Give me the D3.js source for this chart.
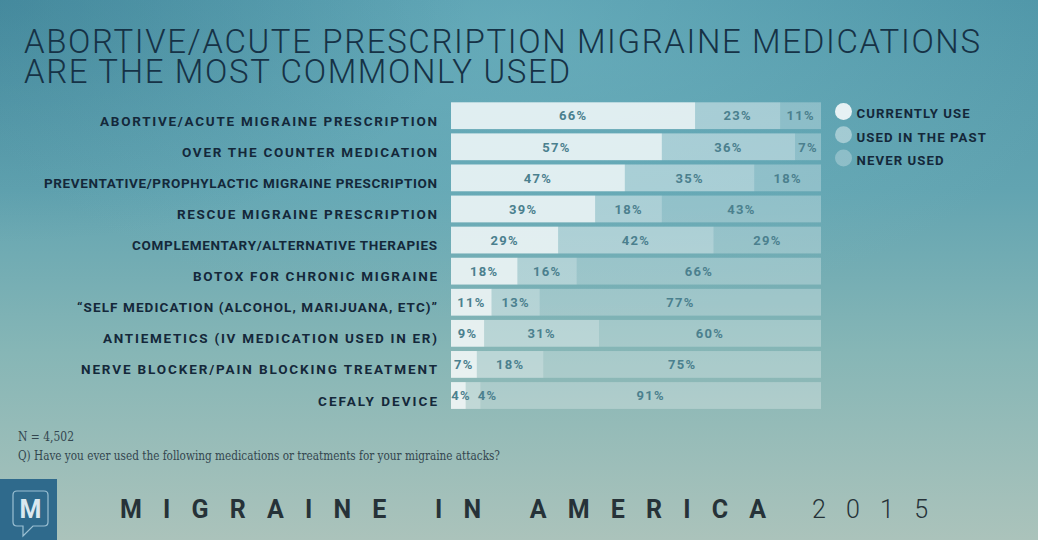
<!DOCTYPE html>
<html><head><meta charset="utf-8">
<script src="https://cdn.jsdelivr.net/npm/d3@7"></script>
<style>html,body{margin:0;padding:0;overflow:hidden;background:#6aa8b2}</style>
</head><body><svg id="chart" width="1038" height="540"></svg>
<script>
const categories = [
  "ABORTIVE/ACUTE MIGRAINE PRESCRIPTION",
  "OVER THE COUNTER MEDICATION",
  "PREVENTATIVE/PROPHYLACTIC MIGRAINE PRESCRIPTION",
  "RESCUE MIGRAINE PRESCRIPTION",
  "COMPLEMENTARY/ALTERNATIVE THERAPIES",
  "BOTOX FOR CHRONIC MIGRAINE",
  "\u201CSELF MEDICATION (ALCOHOL, MARIJUANA, ETC)\u201D",
  "ANTIEMETICS (IV MEDICATION USED IN ER)",
  "NERVE BLOCKER/PAIN BLOCKING TREATMENT",
  "CEFALY DEVICE"
];
const currentlyUse = [66, 57, 47, 39, 29, 18, 11, 9, 7, 4];
const usedInPast   = [23, 36, 35, 18, 42, 16, 13, 31, 18, 4];
const neverUsed    = [11, 7, 18, 43, 29, 66, 77, 60, 75, 91];
const seriesNames  = ["CURRENTLY USE", "USED IN THE PAST", "NEVER USED"];
const titleLines   = ["ABORTIVE/ACUTE PRESCRIPTION MIGRAINE MEDICATIONS", "ARE THE MOST COMMONLY USED"];
const noteLines    = ["N = 4,502", "Q) Have you ever used the following medications or treatments for your migraine attacks?"];
const footerWords  = "MIGRAINE IN AMERICA";
const footerYear   = "2015";

// label widths as set in the original artwork (px)
const labelWidths  = [337, 255, 393, 260, 305, 244, 360, 334, 356, 119];

const svg = d3.select("#chart");
const W = 1038, H = 540;
const defs = svg.append("defs");

// background
const lg = defs.append("linearGradient").attr("id","bg").attr("x1",0).attr("y1",0).attr("x2",0).attr("y2",1);
[["0%","#4f96a8"],["35%","#62a4b1"],["65%","#86b6b6"],["100%","#abc3bb"]].forEach(s=>lg.append("stop").attr("offset",s[0]).attr("stop-color",s[1]));
svg.append("rect").attr("width",W).attr("height",H).attr("fill","url(#bg)");
const rg = defs.append("radialGradient").attr("id","glow").attr("cx",0.5).attr("cy",0.05).attr("r",0.55);
rg.append("stop").attr("offset","0%").attr("stop-color","#7cc0cc").attr("stop-opacity",0.45);
rg.append("stop").attr("offset","100%").attr("stop-color","#7cc0cc").attr("stop-opacity",0);
svg.append("rect").attr("width",W).attr("height",H).attr("fill","url(#glow)");
const rg2 = defs.append("radialGradient").attr("id","vig").attr("cx",0).attr("cy",0).attr("r",0.45);
rg2.append("stop").attr("offset","0%").attr("stop-color","#2f6f86").attr("stop-opacity",0.35);
rg2.append("stop").attr("offset","100%").attr("stop-color","#2f6f86").attr("stop-opacity",0);
svg.append("rect").attr("width",W).attr("height",H).attr("fill","url(#vig)");

// title
svg.selectAll("text.title").data(titleLines).join("text").attr("class","title")
  .attr("x",24).attr("y",(d,i)=>53+i*29.5)
  .attr("font-family","Roboto, 'DejaVu Sans', sans-serif").attr("font-weight",300)
  .attr("font-size",33).attr("fill","#163246")
  .attr("textLength",(d,i)=> i===0 ? 956 : 546).attr("lengthAdjust","spacing")
  .text(d=>d);

// scales
const x = d3.scaleLinear().domain([0,100]).range([451,821]);
const y = d3.scaleBand().domain(categories).range([102.3, 102.3 + 31.09*(10-0.138)]).paddingInner(0.138).paddingOuter(0);

const table = categories.map((c,i)=>({cat:c, s0:currentlyUse[i], s1:usedInPast[i], s2:neverUsed[i]}));
const stack = d3.stack().keys(["s0","s1","s2"])(table);
const alphas = [0.8, 0.44, 0.28];

const g = svg.append("g");
stack.forEach((layer, li)=>{
  g.selectAll(null).data(layer).join("rect")
    .attr("x", d=>x(d[0]))
    .attr("y", d=>y(d.data.cat))
    .attr("width", d=> (li===2 ? x.range()[1] : x(d[1])) - x(d[0]))
    .attr("height", y.bandwidth())
    .attr("fill","#ffffff").attr("fill-opacity",alphas[li]);
});

// value labels with collision handling
table.forEach(row=>{
  const vals = [row.s0,row.s1,row.s2];
  let start = 0, prev = -Infinity;
  vals.forEach((v,i)=>{
    const end = i===2 ? 100 : start+v;
    let cx = (x(start)+x(end))/2;
    const label = v+"%";
    const w = label.length*9;
    if (cx - w/2 < x(start)+1 && i===0) cx = x(start)+1+w/2;
    if (cx < prev + 26.5) cx = prev + 26.5;
    prev = cx;
    svg.append("text").attr("x",cx).attr("y",y(row.cat)+y.bandwidth()/2+4.8)
      .attr("text-anchor","middle")
      .attr("font-family","Roboto, 'DejaVu Sans', sans-serif").attr("font-weight",700)
      .attr("font-size",13).attr("letter-spacing",1.3).attr("fill","#4b808e")
      .text(label);
    start += v;
  });
});

// category labels
svg.selectAll("text.cat").data(categories).join("text").attr("class","cat")
  .attr("x",437).attr("y",d=>y(d)+y.bandwidth()/2+10)
  .attr("text-anchor","end")
  .attr("font-family","Roboto, 'DejaVu Sans', sans-serif").attr("font-weight",700)
  .attr("font-size",13.5).attr("fill","#14283a")
  .attr("textLength",(d,i)=>labelWidths[i]).attr("lengthAdjust","spacing")
  .text(d=>d);

// legend
const legColors = [["#ffffff",0.85],["#ffffff",0.42],["#ffffff",0.28]];
const leg = svg.append("g");
seriesNames.forEach((n,i)=>{
  leg.append("circle").attr("cx",843.5).attr("cy",111.5+i*23.3).attr("r",8.5)
    .attr("fill",legColors[i][0]).attr("fill-opacity",legColors[i][1]);
  leg.append("text").attr("x",856.5).attr("y",118.3+i*23.3)
    .attr("font-family","Roboto, 'DejaVu Sans', sans-serif").attr("font-weight",700)
    .attr("font-size",13.2).attr("letter-spacing",1.1).attr("fill","#14283a")
    .text(n);
});

// notes
svg.selectAll("text.note").data(noteLines).join("text").attr("class","note")
  .attr("x",18).attr("y",(d,i)=>441+i*19)
  .attr("font-family","'DejaVu Serif', 'Liberation Serif', serif")
  .attr("font-size",12.5).attr("fill","#33464f")
  .attr("textLength",(d,i)=> i===0 ? 56 : 482).attr("lengthAdjust","spacingAndGlyphs")
  .text(d=>d);

// logo
const logo = svg.append("g");
logo.append("rect").attr("x",0).attr("y",479).attr("width",57).attr("height",61).attr("fill","#2f6a8c");
logo.append("path")
  .attr("d","M17,491 H44 Q48,491 48,495 V522 Q48,526 44,526 H33 L23,536 V526 H17 Q13,526 13,522 V495 Q13,491 17,491 Z")
  .attr("fill","none").attr("stroke","#9cc0d3").attr("stroke-width",1.2);
logo.append("text").attr("x",30.5).attr("y",518).attr("text-anchor","middle")
  .attr("font-family","Roboto, sans-serif").attr("font-weight",700).attr("font-size",25)
  .attr("fill","#dbe8ef").text("M");

// footer
const spaced = s => s.split(" ").map(w=>w.split("").join(" ")).join("   ");
svg.append("text").attr("x",120).attr("y",518)
  .attr("xml:space","preserve").style("white-space","pre")
  .attr("font-family","Roboto, 'DejaVu Sans', sans-serif").attr("font-weight",700)
  .attr("font-size",25).attr("fill","#263238")
  .attr("textLength",646).attr("lengthAdjust","spacing")
  .text(spaced(footerWords));
svg.append("text").attr("x",812).attr("y",518)
  .attr("xml:space","preserve").style("white-space","pre")
  .attr("font-family","Roboto, 'DejaVu Sans', sans-serif").attr("font-weight",300)
  .attr("font-size",25).attr("fill","#263238")
  .attr("textLength",116).attr("lengthAdjust","spacing")
  .text(spaced(footerYear));
</script></body></html>
